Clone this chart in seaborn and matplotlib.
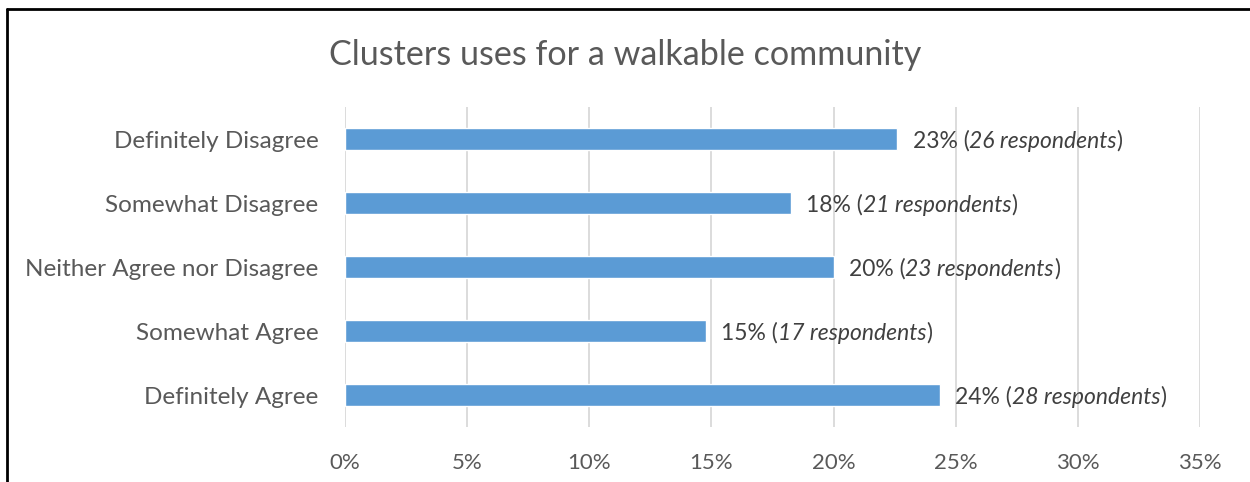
import matplotlib.pyplot as plt
import matplotlib.lines as mlines
import seaborn as sns
import pandas as pd

categories = ["Definitely Disagree", "Somewhat Disagree", "Neither Agree nor Disagree",
              "Somewhat Agree", "Definitely Agree"]
respondents = [26, 21, 23, 17, 28]
total = sum(respondents)
percent = [100 * r / total for r in respondents]
xticks = [0, 5, 10, 15, 20, 25, 30, 35]

df = pd.DataFrame({"category": categories, "percent": percent, "respondents": respondents})

sns.set_theme(style="white")
plt.rcParams['font.family'] = ['Lato', 'DejaVu Sans']
grey = "#595959"

fig = plt.figure(figsize=(12.5, 4.82), dpi=100)
ax = fig.add_axes([0.276, 0.114, 0.684, 0.664])

sns.barplot(data=df, x="percent", y="category", orient="h", color="#5B9BD5",
            width=0.34, saturation=1, ax=ax)

ax.set_xlim(0, 35)
ax.set_ylim(4.5, -0.5)
ax.set_xticks(xticks)
ax.set_xticklabels(["{}%".format(t) for t in xticks], fontsize=16, color=grey)
ax.tick_params(axis="y", labelsize=17.5, labelcolor=grey, length=0, pad=19)
ax.tick_params(axis="x", length=0, pad=19)
ax.set_xlabel("")
ax.set_ylabel("")
ax.grid(axis="x", color="#D9D9D9", linewidth=1.3)
ax.set_axisbelow(True)
for s in ax.spines.values():
    s.set_visible(False)

# data labels: "23% (" + italic "26 respondents" + ")"
for i, (p, r) in enumerate(zip(percent, respondents)):
    t1 = ax.annotate("{:.0f}% (".format(p), xy=(p, i), xytext=(11, -1.5),
                     textcoords="offset points", va="center", ha="left",
                     fontsize=16.5, color="#404040")
    t2 = ax.annotate("{} respondents".format(r), xy=(1, 0.5), xycoords=t1,
                     va="center", ha="left", fontsize=16.5, color="#404040", style="italic")
    ax.annotate(")", xy=(1, 0.5), xycoords=t2, va="center", ha="left",
                fontsize=16.5, color="#404040")

fig.text(0.5, 0.886, "Clusters uses for a walkable community", ha="center", va="center",
         fontsize=24.6, color=grey)

# chart frame (left and top edges visible)
fig.add_artist(mlines.Line2D([6.5 / 1250, 6.5 / 1250], [0, 1 - 8.5 / 482], color="black",
                             linewidth=2, transform=fig.transFigure))
fig.add_artist(mlines.Line2D([6.5 / 1250, 1], [1 - 8.5 / 482, 1 - 8.5 / 482], color="black",
                             linewidth=2, transform=fig.transFigure))

fig.savefig("out.png", dpi=100)
